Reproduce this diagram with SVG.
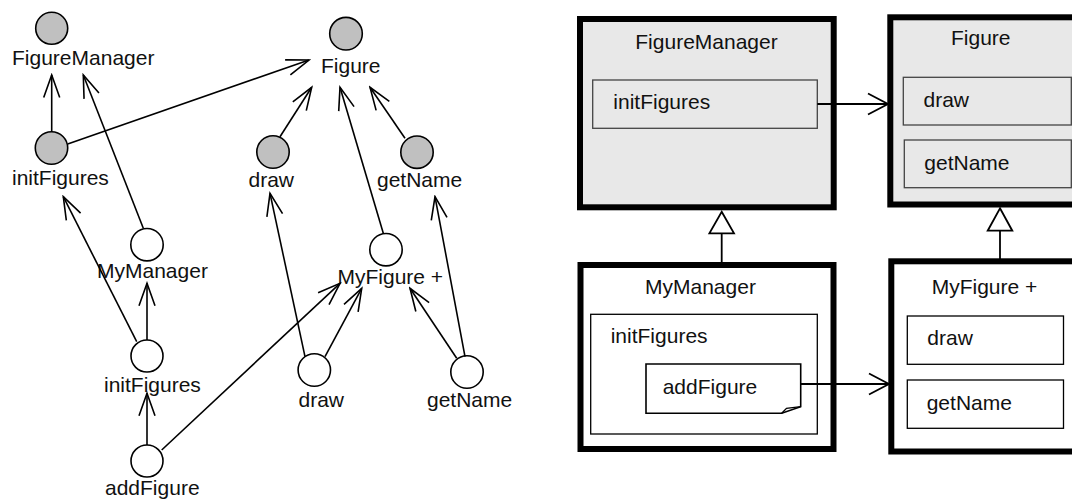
<svg xmlns="http://www.w3.org/2000/svg" width="1072" height="500" viewBox="0 0 1072 500">
<defs>
<style>
text{font-family:"Liberation Sans",Arial,sans-serif;font-size:21px;fill:#111}
.g{fill:#c0c0c0;stroke:#000;stroke-width:1.6}
.w{fill:#fff;stroke:#000;stroke-width:1.6}
.e{fill:none;stroke:#000;stroke-width:1.6}
.ob{stroke:#000;stroke-width:6}
.ib1{fill:#e8e8e8;stroke:#444;stroke-width:1.3}
.ib2{fill:#fff;stroke:#000;stroke-width:1.3}
</style>
<marker id="va" viewBox="-24 -10 26 20" refX="0" refY="0" markerWidth="26" markerHeight="20" markerUnits="userSpaceOnUse" orient="auto">
<path d="M-22.5,-8 L0,0 L-22.5,8" fill="none" stroke="#000" stroke-width="1.6"/>
</marker>
<marker id="vb" viewBox="-22 -12 24 24" refX="0" refY="0" markerWidth="24" markerHeight="24" markerUnits="userSpaceOnUse" orient="auto">
<path d="M-20,-10.5 L0,0 L-20,10.5" fill="none" stroke="#000" stroke-width="1.8"/>
</marker>
</defs>

<!-- Left graph nodes -->
<g id="n-figuremanager"><circle class="g" cx="51.7" cy="28.3" r="16"/><text x="12" y="65">FigureManager</text></g>
<g id="n-figure"><circle class="g" cx="346" cy="33.7" r="16.3"/><text x="321" y="72.7">Figure</text></g>
<g id="n-initfigures-g"><circle class="g" cx="51.5" cy="148" r="16.2"/><text x="12" y="185">initFigures</text></g>
<g id="n-draw-g"><circle class="g" cx="273" cy="152" r="16.2"/><text x="248.5" y="186.7">draw</text></g>
<g id="n-getname-g"><circle class="g" cx="417" cy="152.2" r="16.2"/><text x="377" y="187">getName</text></g>
<g id="n-mymanager"><circle class="w" cx="147" cy="244.7" r="16.2"/><text x="97" y="278">MyManager</text></g>
<g id="n-myfigure"><circle class="w" cx="386" cy="249.7" r="16.2"/><text x="337.5" y="284">MyFigure +</text></g>
<g id="n-initfigures-w"><circle class="w" cx="147" cy="356" r="16"/><text x="104" y="391.7">initFigures</text></g>
<g id="n-draw-w"><circle class="w" cx="314.3" cy="370" r="16.2"/><text x="298.5" y="406.7">draw</text></g>
<g id="n-getname-w"><circle class="w" cx="467" cy="372" r="16.2"/><text x="427" y="406.7">getName</text></g>
<g id="n-addfigure"><circle class="w" cx="147" cy="461" r="16"/><text x="105" y="495">addFigure</text></g>

<!-- Right boxes -->
<g id="b-figuremanager">
<rect class="ob" x="580" y="19" width="253.7" height="188.3" fill="#e8e8e8"/>
<text x="706.5" y="49.3" text-anchor="middle">FigureManager</text>
<rect class="ib1" x="592.7" y="80" width="224.6" height="48.3"/>
<text x="613.3" y="109.3">initFigures</text>
</g>
<g id="b-figure">
<rect class="ob" x="890.3" y="17.3" width="260" height="187.2" fill="#e8e8e8"/>
<text x="951" y="45">Figure</text>
<rect class="ib1" x="903.3" y="77.3" width="168" height="47.7"/>
<text x="923.5" y="106.7">draw</text>
<rect class="ib1" x="904.3" y="140" width="167" height="47.7"/>
<text x="924.3" y="170">getName</text>
</g>
<g id="b-mymanager">
<rect class="ob" x="580.5" y="265" width="253" height="184" fill="#fff"/>
<text x="645" y="294">MyManager</text>
<rect class="ib2" x="590.7" y="314.3" width="226.6" height="119.7"/>
<text x="610.7" y="343.3">initFigures</text>
<path d="M646,364 L800.7,364 L800.7,406.7 L781.7,413.3 L646,413.3 Z" fill="#fff" stroke="#000" stroke-width="1.6"/>
<path d="M781.7,413.3 L786.5,408.3 L800.7,406.7" fill="none" stroke="#000" stroke-width="1.3"/>
<text x="662.7" y="393.7">addFigure</text>
</g>
<g id="b-myfigure">
<rect class="ob" x="891.3" y="261.3" width="260" height="190.2" fill="#fff"/>
<text x="931.7" y="294">MyFigure +</text>
<rect class="ib2" x="907.3" y="316" width="156.2" height="48.3"/>
<text x="927.3" y="345">draw</text>
<rect class="ib2" x="907.3" y="380" width="156.2" height="48.3"/>
<text x="926.7" y="410">getName</text>
</g>

<!-- Connectors -->
<g id="connectors" fill="none" stroke="#000" stroke-width="1.6">
<line x1="51.7" y1="131.7" x2="51.7" y2="75" marker-end="url(#va)"/>
<line x1="143.3" y1="228.3" x2="83.3" y2="75" marker-end="url(#va)"/>
<line x1="67.7" y1="144" x2="309" y2="60" marker-end="url(#va)"/>
<line x1="136.7" y1="341.7" x2="63.3" y2="196.7" marker-end="url(#va)"/>
<line x1="147" y1="340" x2="147" y2="283.3" marker-end="url(#va)"/>
<line x1="147" y1="445" x2="147" y2="393.3" marker-end="url(#va)"/>
<line x1="161.7" y1="450" x2="340" y2="283.3" marker-end="url(#va)"/>
<line x1="280" y1="136.7" x2="311.7" y2="87.3" marker-end="url(#va)"/>
<line x1="405" y1="138.3" x2="370" y2="87.3" marker-end="url(#va)"/>
<line x1="383.3" y1="233.3" x2="340" y2="87.3" marker-end="url(#va)"/>
<line x1="305" y1="356.7" x2="270" y2="193.3" marker-end="url(#va)"/>
<line x1="325" y1="356.7" x2="361.7" y2="288.3" marker-end="url(#va)"/>
<line x1="465" y1="356.7" x2="435" y2="196.7" marker-end="url(#va)"/>
<line x1="456.7" y1="358.3" x2="410" y2="288.3" marker-end="url(#va)"/>
<line x1="817.3" y1="104" x2="888" y2="104" stroke-width="1.8" marker-end="url(#vb)"/>
<line x1="800.7" y1="384" x2="889" y2="384" stroke-width="1.8" marker-end="url(#vb)"/>
<line x1="721.7" y1="233.3" x2="721.7" y2="262" stroke-width="1.8"/>
<path d="M721.7,211.7 L734,233.3 L709.4,233.3 Z" fill="#fff" stroke-width="1.8"/>
<line x1="1000" y1="230.7" x2="1000" y2="259" stroke-width="1.8"/>
<path d="M1000,208.3 L1012.3,230.7 L987.7,230.7 Z" fill="#fff" stroke-width="1.8"/>
</g>
</svg>
